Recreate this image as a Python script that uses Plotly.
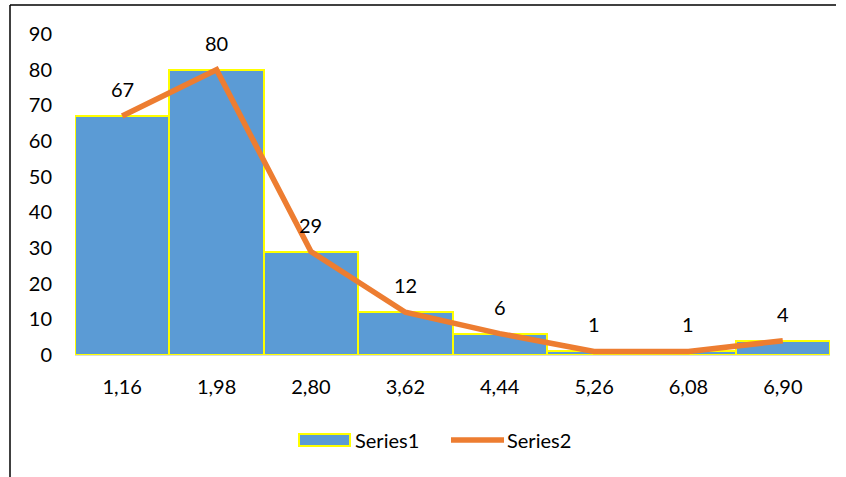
import plotly.graph_objects as go

categories = ["1,16", "1,98", "2,80", "3,62", "4,44", "5,26", "6,08", "6,90"]
series1 = [67, 80, 29, 12, 6, 1, 1, 4]
series2 = [67, 80, 29, 12, 6, 1, 1, 4]
y_ticks = [0, 10, 20, 30, 40, 50, 60, 70, 80, 90]
legend_names = ["Series1", "Series2"]

FONT = "Lato"
FS = 20
W, H = 846, 477
L, T = 75, 34
PLOT_R, PLOT_B = 830, 355
R, B = W - PLOT_R, H - PLOT_B
pw = W - L - R
ph = H - T - B

def px_x(p):
    return (p - L) / pw

def px_y(p):
    return (PLOT_B - p) / ph

fig = go.Figure()
fig.add_trace(go.Bar(
    x=categories, y=series1, name=legend_names[0],
    marker=dict(color="#5B9BD5", line=dict(color="#FFFF00", width=2)),
))
fig.add_trace(go.Scatter(
    x=categories, y=series2, name=legend_names[1], mode="lines",
    line=dict(color="#ED7D31", width=5.5),
))
for c, v in zip(categories, series2):
    fig.add_annotation(x=c, y=v, text=str(v), showarrow=False, yshift=27,
                       font=dict(family=FONT, size=FS, color="#000000"))

# frame
fig.add_shape(type="line", xref="paper", yref="paper",
              x0=px_x(10), x1=px_x(836), y0=px_y(5), y1=px_y(5),
              line=dict(color="#000000", width=1.5))
fig.add_shape(type="line", xref="paper", yref="paper",
              x0=px_x(10), x1=px_x(10), y0=px_y(5), y1=px_y(480),
              line=dict(color="#000000", width=1.5))

# legend (drawn)
fig.add_shape(type="rect", xref="paper", yref="paper",
              x0=px_x(299), x1=px_x(350), y0=px_y(446), y1=px_y(434),
              fillcolor="#5B9BD5", line=dict(color="#FFFF00", width=2))
fig.add_annotation(xref="paper", yref="paper", x=px_x(353), y=px_y(440),
                   xanchor="left", yanchor="middle", text=legend_names[0], showarrow=False,
                   font=dict(family=FONT, size=FS, color="#000000"))
fig.add_shape(type="line", xref="paper", yref="paper",
              x0=px_x(451), x1=px_x(504), y0=px_y(440), y1=px_y(440),
              line=dict(color="#ED7D31", width=5.5))
fig.add_annotation(xref="paper", yref="paper", x=px_x(505), y=px_y(440),
                   xanchor="left", yanchor="middle", text=legend_names[1], showarrow=False,
                   font=dict(family=FONT, size=FS, color="#000000"))

fig.update_layout(
    width=W, height=H,
    margin=dict(l=L, r=R, t=T, b=B),
    paper_bgcolor="white", plot_bgcolor="white",
    bargap=0,
    font=dict(family=FONT, size=FS, color="#000000"),
    showlegend=False,
    xaxis=dict(type="category", showgrid=False, showline=True, linecolor="#D9D9D9",
               linewidth=1, ticks="", ticklabelstandoff=14,
               tickfont=dict(family=FONT, size=FS)),
    yaxis=dict(range=[0, 90], tickvals=y_ticks, showgrid=False, showline=False,
               zeroline=False, ticks="", ticklabelstandoff=22,
               tickfont=dict(family=FONT, size=FS)),
)

fig.write_html("out.html", config={"displayModeBar": False},
               post_script="document.body.style.margin='0';")
